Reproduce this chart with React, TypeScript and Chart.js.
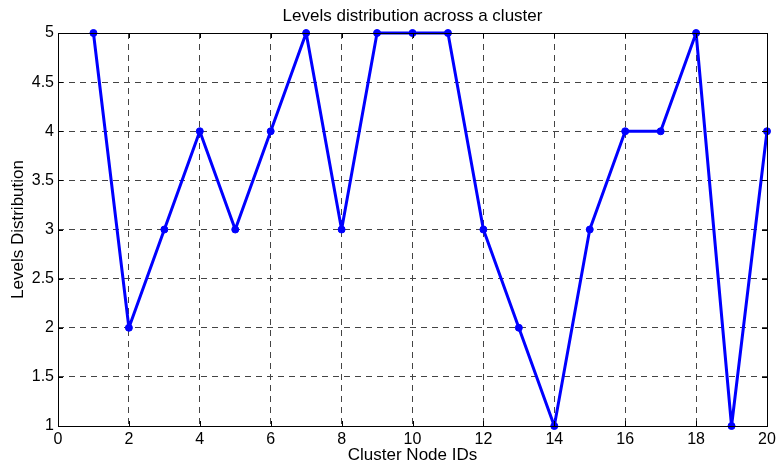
import React, { useEffect, useRef } from "react";
import { Chart, registerables } from "chart.js";

Chart.register(...registerables);

const nodeIds = [1, 2, 3, 4, 5, 6, 7, 8, 9, 10, 11, 12, 13, 14, 15, 16, 17, 18, 19, 20];
const levels = [5, 2, 3, 4, 3, 4, 5, 3, 5, 5, 5, 3, 2, 1, 3, 4, 4, 5, 1, 4];
const chartTitle = "Levels distribution across a cluster";
const xTitle = "Cluster Node IDs";
const yTitle = "Levels Distribution";

const FONT = "'Liberation Sans', Arial, sans-serif";

const framePlugin = {
  id: "frame",
  afterDraw(chart: any) {
    const { ctx, chartArea: a, scales } = chart;
    ctx.save();
    ctx.strokeStyle = "#000";
    ctx.lineWidth = 1;
    ctx.setLineDash([]);
    ctx.strokeRect(Math.round(a.left) + 0.5, Math.round(a.top) + 0.5, Math.round(a.right - a.left), Math.round(a.bottom - a.top));
    const tl = 5;
    ctx.beginPath();
    scales.x.ticks.forEach((t: any) => {
      const px = Math.round(scales.x.getPixelForValue(t.value)) + 0.5;
      ctx.moveTo(px, a.bottom);
      ctx.lineTo(px, a.bottom - tl);
      ctx.moveTo(px, a.top);
      ctx.lineTo(px, a.top + tl);
    });
    scales.y.ticks.forEach((t: any) => {
      const py = Math.round(scales.y.getPixelForValue(t.value)) + 0.5;
      ctx.moveTo(a.left, py);
      ctx.lineTo(a.left + tl, py);
      ctx.moveTo(a.right, py);
      ctx.lineTo(a.right - tl, py);
    });
    ctx.stroke();
    ctx.fillStyle = "#000";
    ctx.font = `17px ${FONT}`;
    ctx.textAlign = "center";
    ctx.textBaseline = "middle";
    ctx.fillText(chartTitle, (a.left + a.right) / 2, 16);
    ctx.fillText(xTitle, (a.left + a.right) / 2, 455);
    ctx.translate(18, (a.top + a.bottom) / 2);
    ctx.rotate(-Math.PI / 2);
    ctx.fillText(yTitle, 0, 0);
    ctx.restore();
  },
};

export default function App() {
  const ref = useRef<HTMLCanvasElement>(null);
  useEffect(() => {
    document.body.style.margin = "0";
    const chart = new Chart(ref.current!, {
      type: "line",
      data: {
        datasets: [
          {
            data: nodeIds.map((x, i) => ({ x, y: levels[i] })),
            borderColor: "#0000ff",
            backgroundColor: "#0000ff",
            borderWidth: 3,
            borderJoinStyle: "round",
            borderCapStyle: "round",
            pointRadius: 3.5,
            pointBorderWidth: 1,
            pointBackgroundColor: "#0000ff",
            pointBorderColor: "#0000ff",
            tension: 0,
            clip: false,
          },
        ],
      },
      options: {
        animation: false,
        responsive: false,
        maintainAspectRatio: false,
        layout: { padding: { top: 33, right: 10, left: 0, bottom: 0 } },
        plugins: { legend: { display: false }, title: { display: false }, tooltip: { enabled: false } },
        scales: {
          x: {
            type: "linear",
            min: 0,
            max: 20,
            ticks: { stepSize: 2, color: "#000", font: { size: 16, family: FONT }, padding: 4, maxRotation: 0 },
            grid: { color: "#444", lineWidth: 1, drawTicks: false },
            border: { display: false, dash: [6, 5] },
            afterFit(s: any) { s.height = 40; s.paddingLeft = 0; s.paddingRight = 0; },
          },
          y: {
            min: 1,
            max: 5,
            ticks: { stepSize: 0.5, color: "#000", font: { size: 16, family: FONT }, padding: 4, callback: (v: any) => String(v) },
            grid: { color: "#444", lineWidth: 1, drawTicks: false },
            border: { display: false, dash: [6, 5] },
            afterFit(s: any) { s.width = 58; s.paddingTop = 0; s.paddingBottom = 0; },
          },
        },
      },
      plugins: [framePlugin],
    });
    return () => chart.destroy();
  }, []);
  return <canvas ref={ref} width={777} height={466} style={{ display: "block" }} />;
}
